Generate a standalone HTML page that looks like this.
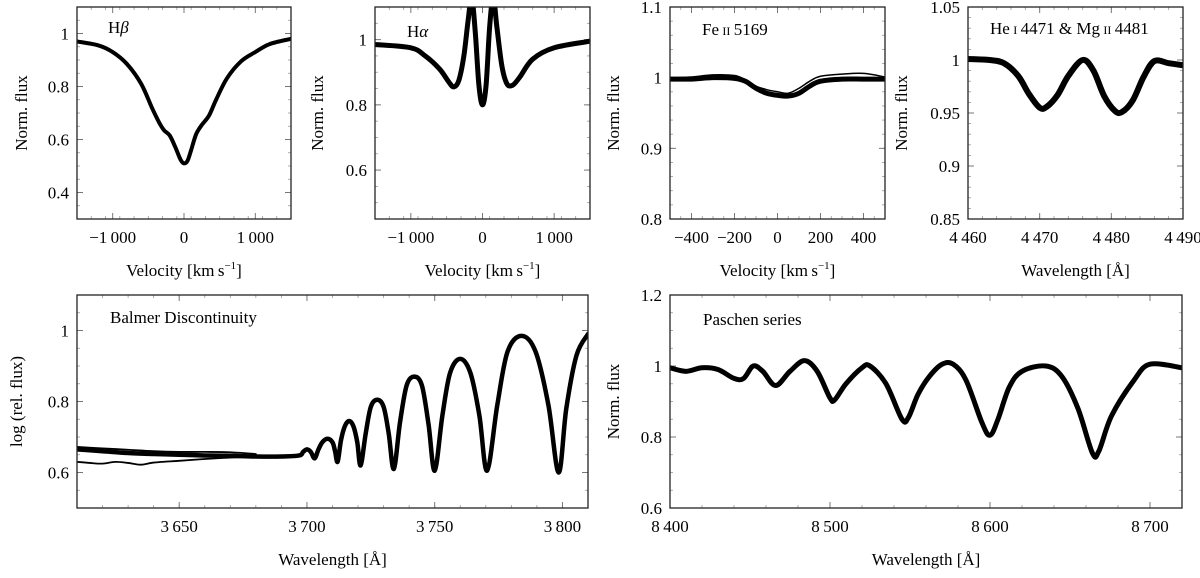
<!DOCTYPE html>
<html><head><meta charset="utf-8">
<style>
html,body{margin:0;padding:0;background:#fff;}
svg, svg text{font-family:"Liberation Serif","Times New Roman",Times,"DejaVu Serif",serif;}
</style></head>
<body>
<svg id="fig" width="1200" height="573" viewBox="0 0 1200 573" xmlns="http://www.w3.org/2000/svg"></svg>
<script>
// ---- data ----
const hbVel = [-1500,-1200,-1000,-800,-600,-450,-350,-280,-200,-120,-50,0,50,100,170,250,350,450,600,800,1000,1200,1500];
const hbFlux = [0.97,0.955,0.93,0.885,0.81,0.72,0.665,0.635,0.615,0.57,0.525,0.51,0.52,0.56,0.62,0.655,0.69,0.75,0.83,0.895,0.93,0.96,0.98];
const haVel = [-1500,-1000,-800,-600,-470,-400,-330,-260,-200,-150,-100,-50,0,50,100,150,200,270,340,420,520,700,1000,1500];
const haFlux = [0.985,0.975,0.95,0.91,0.87,0.855,0.875,0.95,1.06,1.13,1.02,0.86,0.80,0.86,1.04,1.13,1.04,0.92,0.865,0.86,0.885,0.94,0.975,0.995];
const feVel = [-500,-400,-300,-200,-150,-100,-50,0,50,100,150,200,300,400,500];
const feFlux = [0.998,0.998,1.0,0.999,0.995,0.985,0.978,0.975,0.974,0.978,0.988,0.995,0.998,0.998,0.998];
const feFlux2 = [1.0,1.001,1.004,1.003,0.997,0.988,0.983,0.98,0.978,0.985,0.995,1.002,1.005,1.006,1.001];
const heWave = [4460,4463,4465,4467,4468.5,4470,4471,4472.5,4474,4476,4477.5,4479,4480.5,4481.5,4483,4484.5,4486,4488,4490];
const heFlux = [1.001,1.0,0.997,0.985,0.968,0.955,0.956,0.967,0.985,1.0,0.99,0.966,0.952,0.951,0.962,0.984,0.999,0.997,0.995];
const baWave = [3610,3620,3630,3640,3650,3660,3670,3680,3690,3697,3698.5,3700,3701.5,3703,3704.5,3706,3708,3710,3711,3712,3713.3,3714.8,3716.5,3718.2,3719.7,3721,3723,3725,3727.5,3730,3732,3734,3736.4,3739,3742,3745,3747.6,3750,3753,3756,3760,3764,3767.5,3770.5,3774.5,3778.5,3784,3789.5,3794.5,3798.5,3801.5,3805.5,3810];
const baFlux = [0.665,0.66,0.655,0.652,0.65,0.648,0.647,0.645,0.645,0.648,0.658,0.665,0.658,0.64,0.665,0.685,0.695,0.685,0.66,0.63,0.69,0.73,0.745,0.73,0.685,0.62,0.71,0.785,0.805,0.785,0.71,0.61,0.74,0.845,0.87,0.845,0.735,0.605,0.76,0.88,0.92,0.88,0.76,0.605,0.79,0.94,0.985,0.94,0.79,0.60,0.78,0.93,0.99];
const baWaveLow = [3610,3615,3620,3625,3630,3635,3640,3650,3660,3670,3680];
const baFluxLow = [0.63,0.627,0.625,0.63,0.627,0.622,0.628,0.633,0.638,0.642,0.645];
const baWaveHigh = [3610,3620,3630,3640,3650,3660,3670,3680];
const baFluxHigh = [0.672,0.668,0.664,0.66,0.658,0.658,0.657,0.652];
const paWave = [8400,8410,8420,8430,8440,8446,8452,8458,8466,8475,8484,8492,8500,8503,8510,8520,8525,8535,8545,8549,8555,8562,8570,8577,8585,8595,8600,8605,8612,8620,8635,8645,8655,8664,8668,8676,8690,8700,8720];
const paFlux = [0.995,0.985,0.995,0.99,0.965,0.965,1.0,0.985,0.945,0.985,1.015,0.985,0.91,0.905,0.95,0.995,1.0,0.95,0.85,0.855,0.92,0.97,1.005,1.005,0.96,0.84,0.805,0.85,0.94,0.985,1.0,0.97,0.88,0.755,0.76,0.86,0.96,1.005,0.995];

const NS='http://www.w3.org/2000/svg';
const FONT='"Liberation Serif", "Times New Roman", Times, "DejaVu Serif", serif';
const svg=document.getElementById('fig');
function el(tag,attrs,parent){const e=document.createElementNS(NS,tag);for(const k in attrs)e.setAttribute(k,attrs[k]);if(tag==='text')e.style.fontFamily=FONT;(parent||svg).appendChild(e);return e;}
function fmt(v,dec){let s=Math.abs(v).toFixed(dec);let [i,f]=s.split('.');if(i.length>3)i=i.slice(0,i.length-3)+'\u2009'+i.slice(-3);s=f?i+'.'+f:i;return (v<-1e-9?'\u2212':'')+s;}
function fmtY(v){return (+v.toFixed(2)).toString();}
function spline(pts){let d='M'+pts[0][0]+','+pts[0][1];for(let i=0;i<pts.length-1;i++){const p0=pts[i-1]||pts[i],p1=pts[i],p2=pts[i+1],p3=pts[i+2]||p2;const c1=[p1[0]+(p2[0]-p0[0])/6,p1[1]+(p2[1]-p0[1])/6],c2=[p2[0]-(p3[0]-p1[0])/6,p2[1]-(p3[1]-p1[1])/6];d+=' C'+c1[0].toFixed(2)+','+c1[1].toFixed(2)+' '+c2[0].toFixed(2)+','+c2[1].toFixed(2)+' '+p2[0].toFixed(2)+','+p2[1].toFixed(2);}return d;}

function panel(p){
  const g=el('g',{});
  
  
  const X=v=>p.x0+(v-p.xmin)/(p.xmax-p.xmin)*(p.x1-p.x0);
  const Y=v=>p.y1-(v-p.ymin)/(p.ymax-p.ymin)*(p.y1-p.y0);
  const cid='clip-'+p.name;
  const cp=el('clipPath',{id:cid},g);el('rect',{x:p.x0,y:p.y0,width:p.x1-p.x0,height:p.y1-p.y0},cp);
  const tk=el('g',{stroke:'#999','stroke-width':0.8},g);
  for(let v=p.xmin;v<=p.xmax+1e-9;v+=p.xminor){const x=X(v);el('line',{x1:x,y1:p.y1,x2:x,y2:p.y1-3},tk);el('line',{x1:x,y1:p.y0,x2:x,y2:p.y0+3},tk);}
  for(let v=p.ymin;v<=p.ymax+1e-9;v+=p.yminor){const y=Y(v);el('line',{x1:p.x0,y1:y,x2:p.x0+3,y2:y},tk);el('line',{x1:p.x1,y1:y,x2:p.x1-3,y2:y},tk);}
  const tm=el('g',{stroke:'#777','stroke-width':1},g);
  p.xticks.forEach(v=>{const x=X(v);el('line',{x1:x,y1:p.y1,x2:x,y2:p.y1-6},tm);el('line',{x1:x,y1:p.y0,x2:x,y2:p.y0+6},tm);
    const t=el('text',{x:x,y:p.y1+24,'text-anchor':'middle','font-size':17,fill:'#000'},g);t.textContent=fmt(v,0);
    
    });
  p.yticks.forEach(v=>{const y=Y(v);el('line',{x1:p.x0,y1:y,x2:p.x0+6,y2:y},tm);el('line',{x1:p.x1,y1:y,x2:p.x1-6,y2:y},tm);
    const t=el('text',{x:p.x0-8,y:y+6,'text-anchor':'end','font-size':17,fill:'#000'},g);t.textContent=fmtY(v);
    
    });
  const sg=el('g',{'clip-path':'url(#'+cid+')',fill:'none',stroke:'#000','stroke-linejoin':'round','stroke-linecap':'round'},g);
  p.series.forEach(s=>{const pts=s.x.map((v,i)=>[X(v),Y(s.y[i])]);const path=el('path',{d:spline(pts),'stroke-width':s.w},sg);
    
    });
  const fr=el('rect',{x:p.x0,y:p.y0,width:p.x1-p.x0,height:p.y1-p.y0,fill:'none',stroke:'#222','stroke-width':1.3},g);
  
  
  const xl=el('text',{x:(p.x0+p.x1)/2,y:p.y1+57,'text-anchor':'middle','font-size':17},g);xl.innerHTML=p.xlabel;
  
  
  const yc=(p.y0+p.y1)/2;
  const yl=el('text',{x:p.ylx,y:yc,'text-anchor':'middle','font-size':17,transform:'rotate(-90 '+p.ylx+' '+yc+')'},g);yl.textContent=p.ylabel;
  
  
  const tt=el('text',{x:p.tx,y:p.ty,'font-size':17},g);tt.innerHTML=p.title;
  
  
}
const velLbl='Velocity [km\u2009s<tspan dy="-7" font-size="11">\u22121</tspan><tspan dy="7">]</tspan>';
const wlLbl='Wavelength [\u00C5]';
const sc=s=>'<tspan font-size="12">'+s+'</tspan>';
panel({name:'h-beta-panel',x0:77,x1:291,y0:7,y1:219,xmin:-1500,xmax:1500,ymin:0.3,ymax:1.1,xticks:[-1000,0,1000],yticks:[0.4,0.6,0.8,1],xminor:200,yminor:0.05,xlabel:velLbl,ylabel:'Norm. flux',ylx:27,title:'H<tspan font-style="italic">\u03B2</tspan>',tx:108,ty:33,series:[{x:hbVel,y:hbFlux,w:4}]});
panel({name:'h-alpha-panel',x0:375,x1:590,y0:7,y1:219,xmin:-1500,xmax:1500,ymin:0.45,ymax:1.1,xticks:[-1000,0,1000],yticks:[0.6,0.8,1],xminor:200,yminor:0.05,xlabel:velLbl,ylabel:'Norm. flux',ylx:323,title:'H<tspan font-style="italic">\u03B1</tspan>',tx:407,ty:37,series:[{x:haVel,y:haFlux,w:5}]});
panel({name:'fe-ii-panel',x0:670,x1:885,y0:7,y1:219,xmin:-500,xmax:500,ymin:0.8,ymax:1.1,xticks:[-400,-200,0,200,400],yticks:[0.8,0.9,1,1.1],xminor:50,yminor:0.02,xlabel:velLbl,ylabel:'Norm. flux',ylx:619,title:'Fe\u2009'+sc('II')+'\u20095169',tx:702,ty:35,series:[{x:feVel,y:feFlux,w:5},{x:feVel,y:feFlux2,w:1.5}]});
panel({name:'he-mg-panel',x0:968,x1:1183,y0:7,y1:219,xmin:4460,xmax:4490,ymin:0.85,ymax:1.05,xticks:[4460,4470,4480,4490],yticks:[0.85,0.9,0.95,1,1.05],xminor:2,yminor:0.01,xlabel:wlLbl,ylabel:'Norm. flux',ylx:907,title:'He\u2009'+sc('I')+'\u20094471 &amp; Mg\u2009'+sc('II')+'\u20094481',tx:990,ty:34,series:[{x:heWave,y:heFlux,w:6}]});
panel({name:'balmer-panel',x0:77,x1:588,y0:295,y1:508,xmin:3610,xmax:3810,ymin:0.5,ymax:1.1,xticks:[3650,3700,3750,3800],yticks:[0.6,0.8,1],xminor:10,yminor:0.05,xlabel:wlLbl,ylabel:'log (rel. flux)',ylx:22,title:'Balmer Discontinuity',tx:110,ty:323,series:[{x:baWave,y:baFlux,w:4.5},{x:baWaveLow,y:baFluxLow,w:1.8},{x:baWaveHigh,y:baFluxHigh,w:1.8}]});
panel({name:'paschen-panel',x0:670,x1:1182,y0:295,y1:508,xmin:8400,xmax:8720,ymin:0.6,ymax:1.2,xticks:[8400,8500,8600,8700],yticks:[0.6,0.8,1,1.2],xminor:20,yminor:0.05,xlabel:wlLbl,ylabel:'Norm. flux',ylx:619,title:'Paschen series',tx:703,ty:325,series:[{x:paWave,y:paFlux,w:5}]});
</script>
</body></html>
